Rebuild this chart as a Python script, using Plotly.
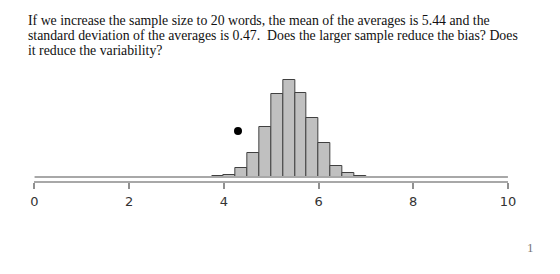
import plotly.graph_objects as go

# Data
bin_starts = [3.75, 4.0, 4.25, 4.5, 4.75, 5.0, 5.25, 5.5, 5.75, 6.0, 6.25, 6.5, 6.75]
counts = [2, 5, 20, 52, 109, 181, 212, 184, 128, 74, 25, 9, 2]
bin_width = 0.25
dot_x = [4.3]
dot_y = [100]
tick_vals = [0, 2, 4, 6, 8, 10]
tick_text = ["0", "2", "4", "6", "8", "10"]
text_lines = [
    "If we increase the sample size to 20 words, the mean of the averages is 5.44 and the",
    "standard deviation of the averages is 0.47.  Does the larger sample reduce the bias? Does",
    "it reduce the variability?",
]
page_number = "1"

W, H = 560, 274
x0_px, x10_px = 31, 515
top_px, bot_px = 60, 181

fig = go.Figure()

# baseline line
fig.add_trace(go.Scatter(x=[tick_vals[0], tick_vals[-1]], y=[0, 0], mode="lines",
                         line=dict(color="#a8a8a8", width=2), hoverinfo="skip", showlegend=False))

fig.add_trace(go.Bar(
    x=[b + bin_width / 2 for b in bin_starts], y=counts, width=bin_width,
    marker=dict(color="#c0c0c0", line=dict(color="#404040", width=1)),
    showlegend=False,
))

fig.add_trace(go.Scatter(x=dot_x, y=dot_y, mode="markers",
                         marker=dict(color="black", size=8, symbol="circle"),
                         showlegend=False))

ypx_per_unit = 97.3 / 212
y_min = -(bot_px - 177) / ypx_per_unit
y_max = (177 - top_px) / ypx_per_unit

fig.update_layout(
    width=W, height=H,
    margin=dict(l=0, r=0, t=top_px, b=H - bot_px, pad=0),
    paper_bgcolor="white", plot_bgcolor="white",
    bargap=0,
    xaxis=dict(domain=[x0_px / W, x10_px / W], range=[0, 10],
               tickvals=tick_vals, ticktext=tick_text,
               showline=True, linecolor="#a8a8a8", linewidth=2,
               ticks="outside", ticklen=6, tickwidth=1.5, tickcolor="#909090",
               ticklabelstandoff=1,
               showgrid=False, zeroline=False,
               tickfont=dict(family="DejaVu Sans", size=13, color="#333333")),
    yaxis=dict(range=[y_min, y_max], visible=False, showgrid=False, zeroline=False),
    font=dict(family="Liberation Serif"),
)

plot_h = bot_px - top_px
centers = [20.0, 35.4, 50.8]
for line, cy in zip(text_lines, centers):
    fig.add_annotation(text=line, xref="paper", yref="paper",
                       x=22 / W, y=(bot_px - cy) / plot_h,
                       xanchor="left", yanchor="middle", showarrow=False,
                       font=dict(family="Liberation Serif", size=13.8, color="#111111"))

fig.add_annotation(text=page_number, xref="paper", yref="paper",
                   x=538 / W, y=(bot_px - 247) / plot_h,
                   xanchor="center", yanchor="middle", showarrow=False,
                   font=dict(family="Liberation Serif", size=13, color="#777777"))

fig.write_html("out.html")
